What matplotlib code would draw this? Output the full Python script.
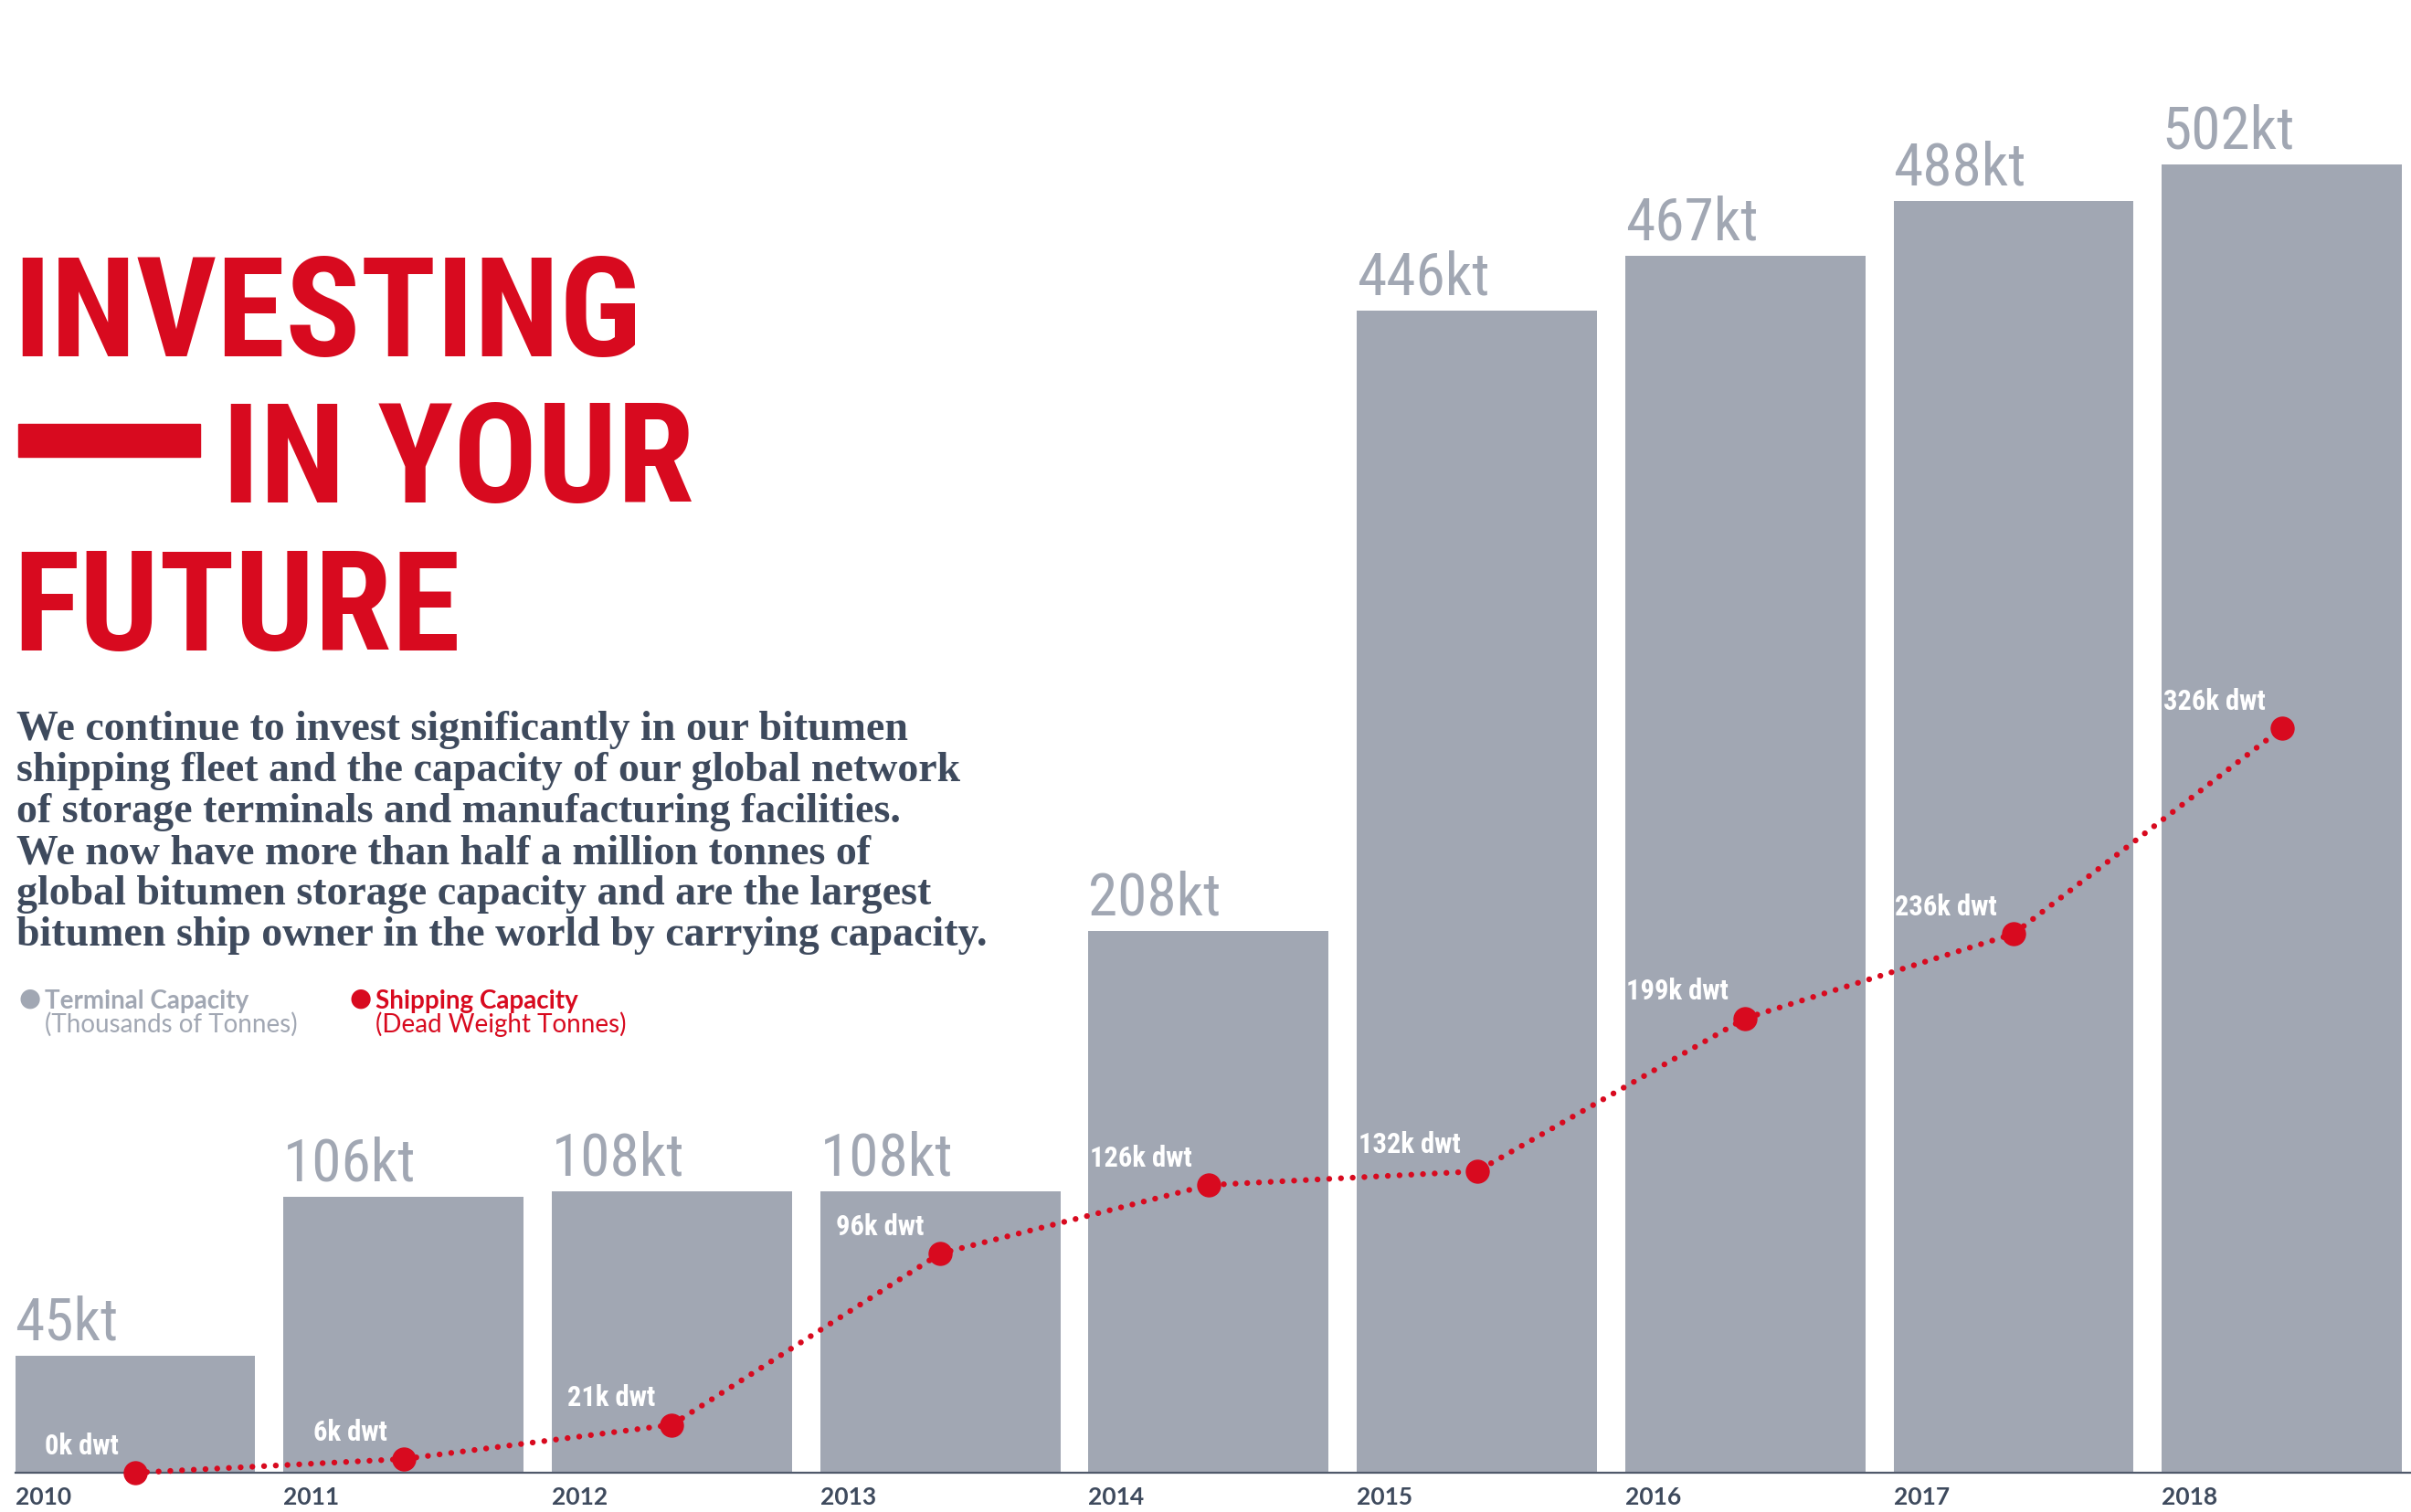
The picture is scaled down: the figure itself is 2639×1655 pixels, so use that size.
import numpy as np
import matplotlib.pyplot as plt
from matplotlib import font_manager
from matplotlib.patches import Rectangle


# 1. Datos
anios = ['2010', '2011', '2012', '2013', '2014', '2015', '2016', '2017', '2018']
terminal_kt = [45, 106, 108, 108, 208, 446, 467, 488, 502]
buques_kdwt = [0, 6, 21, 96, 126, 132, 199, 236, 326]

titulo = ['INVESTING', 'IN YOUR', 'FUTURE']
cuerpo = [
    'We continue to invest significantly in our bitumen',
    'shipping fleet and the capacity of our global network',
    'of storage terminals and manufacturing facilities.',
    'We now have more than half a million tonnes of',
    'global bitumen storage capacity and are the largest',
    'bitumen ship owner in the world by carrying capacity.',
]
leyenda = [('Terminal Capacity', '(Thousands of Tonnes)'),
           ('Shipping Capacity', '(Dead Weight Tonnes)')]

# 2. Estilo
GRIS = '#a1a7b3'
ROJO = '#d80a1f'
PIZARRA = '#3e4a5d'

nombres = {f.name for f in font_manager.fontManager.ttflist}
ESTRECHA = next((n for n in ['Liberation Sans Narrow', 'Roboto Condensed',
                             'Open Sans Condensed', 'Liberation Sans']
                 if n in nombres), 'DejaVu Sans')
SANS = ['Lato', 'DejaVu Sans']
SERIF = ['Liberation Serif', 'DejaVu Serif']

W, H = 2639, 1655
fig = plt.figure(figsize=(W / 100, H / 100), dpi=100)

# 3. Barras (capacidad de terminales)
x = np.arange(len(anios))
ancho = 0.895
ax = fig.add_axes([16.5 / W, 43 / H, 1 - 16.5 / W, 1 - 43 / H])
ax.bar(x, terminal_kt, width=ancho, color=GRIS, zorder=1)
ax.set_xlim(-ancho / 2, 8.481)
ax.set_ylim(0, 565)
for xi, v in zip(x, terminal_kt):
    ax.annotate(f'{v}kt', (xi - ancho / 2, v), xytext=(0, 3),
                textcoords='offset points', ha='left', va='bottom',
                fontsize=47, color=GRIS, family=[ESTRECHA, 'DejaVu Sans'])

for lado in ['top', 'right', 'left']:
    ax.spines[lado].set_visible(False)
ax.spines['bottom'].set_color('#505a6b')
ax.spines['bottom'].set_linewidth(1.6)
ax.set_yticks([])
ax.set_xticks(x - ancho / 2, anios, ha='left')
ax.tick_params(axis='x', length=0, pad=11, labelsize=19,
               labelcolor=PIZARRA)
for t in ax.get_xticklabels():
    t.set_fontweight('bold')
    t.set_family(SANS)

# 4. Linea (capacidad de flota)
ax2 = ax.twinx()
ax2.set_ylim(0, 645)
ax2.axis('off')
ax2.plot(x, buques_kdwt, color=ROJO, lw=4.6, linestyle=(0, (0.01, 2.0)),
         dash_capstyle='round', clip_on=False, zorder=3)
ax2.plot(x, buques_kdwt, 'o', ms=18, color=ROJO, clip_on=False, zorder=4)
for xi, v in zip(x, buques_kdwt):
    ax2.annotate(f'{v}k dwt', (xi, v), xytext=(-13, 21),
                 textcoords='offset points', ha='right', va='center',
                 fontsize=22, fontweight='bold', color='white',
                 family=[ESTRECHA, 'DejaVu Sans'])

# 5. Titulo, texto y leyenda (coordenadas de pixel)
ov = fig.add_axes([0, 0, 1, 1])
ov.set_xlim(0, W)
ov.set_ylim(H, 0)
ov.axis('off')

estilo_tit = dict(fontsize=110, fontweight='bold', color=ROJO,
                  family=[ESTRECHA, 'DejaVu Sans'], va='baseline', ha='left')
ov.text(14, 390, titulo[0], **estilo_tit)
ov.add_patch(Rectangle((20, 464), 199, 36, color=ROJO))
ov.text(243, 550, titulo[1], **estilo_tit)
ov.text(14, 712, titulo[2], **estilo_tit)

for i, linea in enumerate(cuerpo):
    ov.text(18, 810 + i * 45, linea, fontsize=33, fontweight='bold',
            color=PIZARRA, family=SERIF, va='baseline', ha='left')

for (nombre, unidad), col, x0 in zip(leyenda, [GRIS, ROJO], [20, 382]):
    ov.text(x0, 1093, '●', fontsize=20, color=col, ha='left', va='center',
            family=['DejaVu Sans'])
    ov.text(x0 + 29, 1096, nombre, fontsize=20, fontweight='bold', color=col,
            ha='left', va='center', family=SANS)
    ov.text(x0 + 29, 1121, unidad, fontsize=20, color=col,
            ha='left', va='center', family=SANS)

fig.savefig('out.png', dpi=100)
